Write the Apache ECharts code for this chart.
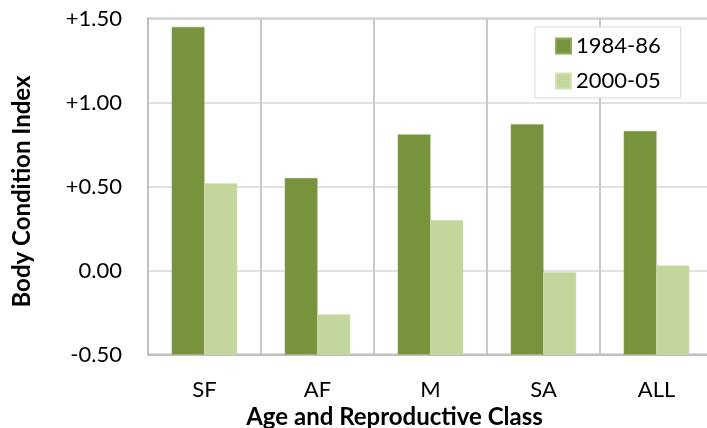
<!DOCTYPE html>
<html><head><meta charset="utf-8">
<script src="https://cdn.jsdelivr.net/npm/echarts@6/dist/echarts.min.js"></script>
<style>html,body{margin:0;padding:0;background:#fff}#c{width:707px;height:428px}</style>
</head><body><div id="c"></div>
<script>
const categories = ['SF', 'AF', 'M', 'SA', 'ALL'];
const series1984 = [1.45, 0.55, 0.81, 0.87, 0.83];
const series2000 = [0.52, -0.26, 0.30, -0.01, 0.03];
const seriesNames = ['1984-86', '2000-05'];
const yTicks = [-0.5, 0, 0.5, 1.0, 1.5];
const yTickLabels = ['-0.50', '0.00', '+0.50', '+1.00', '+1.50'];
const xTitle = 'Age and Reproductive Class';
const yTitle = 'Body Condition Index';

const FONT = 'Lato';
const chart = echarts.init(document.getElementById('c'));
chart.setOption({
  animation: false,
  backgroundColor: '#fff',
  grid: { left: 148, right: -6, top: 18.5, bottom: 73.5, show: true, borderColor: '#bfbfbf', borderWidth: 2,
          containLabel: false, outerBoundsMode: 'none' },
  legend: {
    left: 535, top: 27, orient: 'vertical',
    backgroundColor: '#fff', borderColor: '#d9d9d9', borderWidth: 1,
    padding: [8, 20, 6, 20], itemGap: 13, itemWidth: 15, itemHeight: 15,
    icon: 'rect',
    textStyle: { fontFamily: FONT, fontSize: 22, color: '#000', lineHeight: 20 },
    data: seriesNames
  },
  xAxis: {
    type: 'category', data: categories,
    axisLine: { show: true, onZero: false, lineStyle: { color: '#bfbfbf', width: 2 } },
    axisTick: { show: false },
    axisLabel: { fontFamily: FONT, fontSize: 22, color: '#000', margin: 24 },
    splitLine: { show: true, lineStyle: { color: '#c8c8c8', width: 2 } },
    name: xTitle, nameLocation: 'middle', nameGap: 43,
    nameTextStyle: { fontFamily: FONT, fontSize: 24, fontWeight: 'bold', color: '#000', padding: [0, 72, 0, 0] }
  },
  yAxis: {
    type: 'value', min: yTicks[0], max: yTicks[yTicks.length - 1], interval: 0.5,
    startValue: yTicks[0],
    axisLine: { show: true, lineStyle: { color: '#bfbfbf', width: 2 } },
    axisTick: { show: false },
    axisLabel: {
      fontFamily: FONT, fontSize: 22, color: '#000', margin: 26,
      formatter: v => { const i = yTicks.findIndex(t => Math.abs(t - v) < 1e-9); return i >= 0 ? yTickLabels[i] : ''; }
    },
    splitLine: { lineStyle: { color: '#d9d9d9', width: 1.5 } },
    name: yTitle, nameLocation: 'middle', nameGap: 114, nameRotate: 90,
    nameTextStyle: { fontFamily: FONT, fontSize: 24, fontWeight: 'bold', color: '#000', padding: [0, 10, 0, 0] }
  },
  series: [
    { name: seriesNames[0], type: 'bar', data: series1984, barGap: '0%', barCategoryGap: '42%',
      itemStyle: { color: '#77933c', borderColor: '#8fa85a', borderWidth: 0.5 } },
    { name: seriesNames[1], type: 'bar', data: series2000, barGap: '0%', barCategoryGap: '42%',
      itemStyle: { color: '#c3d69b', borderColor: '#d4e2b6', borderWidth: 0.5 } }
  ]
});
</script></body></html>
